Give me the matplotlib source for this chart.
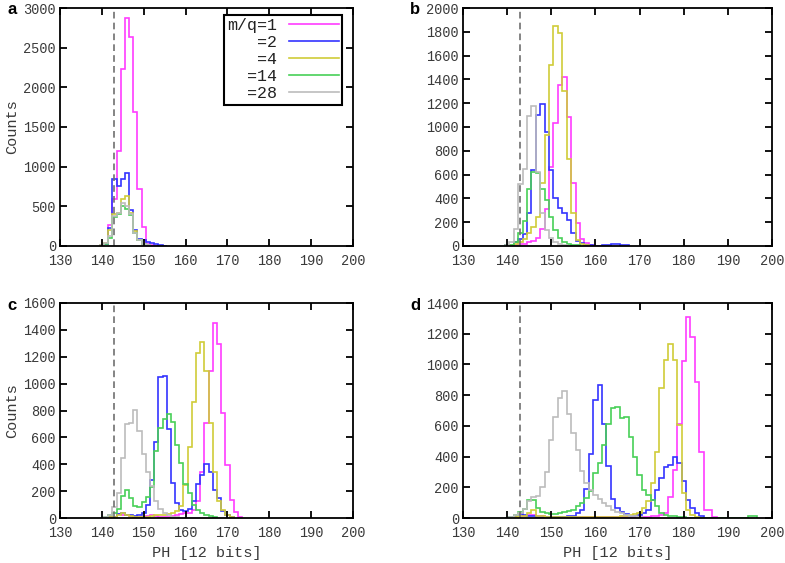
import matplotlib
matplotlib.use("Agg")
import matplotlib.pyplot as plt
from matplotlib.lines import Line2D
import numpy as np

# ---------------- data (counts per 1-unit PH bin, first bin centre = START) -------------
START = 140
xlim = (130, 200)
dashed_x = 143
labels = ["m/q=1", "=2", "=4", "=14", "=28"]
colors = ["#ff3cff", "#3434ff", "#d0cc38", "#48d058", "#bcbcbc"]

# panel a
a_m1 = [5, 20, 265, 590, 1200, 2230, 2880, 2630, 1685, 720, 245, 30, 10, 5]
a_m2 = [5, 30, 230, 840, 750, 840, 915, 460, 200, 85, 75, 55, 35, 20, 10, 5]
a_m4 = [10, 40, 200, 400, 420, 590, 635, 420, 190, 80, 30, 10]
a_m14 = [5, 20, 100, 370, 400, 510, 470, 390, 170, 80, 30, 10]
a_m28 = [10, 40, 130, 380, 420, 540, 510, 400, 170, 70, 30, 10]

# panel b
b_m1 = [0, 0, 5, 15, 20, 36, 45, 64, 140, 311, 667, 1036, 1353, 1417, 1087, 527, 190, 56, 22, 5]
b_m2 = [5, 10, 30, 60, 100, 280, 640, 1100, 1195, 960, 635, 400, 316, 280, 218, 106, 45, 22,
        10, 5, 3, 3, 5, 10, 15, 20, 10, 5]
b_m4 = [0, 10, 20, 30, 60, 106, 162, 246, 527, 930, 1521, 1849, 1793, 1305, 728, 275, 50, 20, 5]
b_m14 = [5, 10, 30, 110, 210, 475, 625, 616, 476, 386, 246, 134, 64, 36, 20, 10, 5]
b_m28 = [10, 30, 140, 525, 650, 1095, 1180, 620, 275, 134, 64, 36, 20, 10]

# panel c
c_m1 = [0, 0, 5, 10, 30, 25, 20, 15, 10, 10, 10, 15, 20, 15, 10, 10, 10, 15, 20, 30,
        35, 40, 60, 130, 346, 705, 1097, 1448, 1295, 780, 396, 136, 42, 5]
c_m2 = [0, 0, 5, 10, 30, 35, 25, 20, 15, 20, 40, 100, 280, 565, 1050, 1060, 660, 260, 111, 62,
        50, 70, 125, 250, 322, 403, 346, 210, 150, 55, 20, 5]
c_m4 = [0, 0, 5, 10, 20, 40, 25, 15, 10, 5, 5, 10, 15, 20, 20, 25, 30, 40, 50, 90,
        248, 532, 866, 1225, 1312, 1097, 705, 346, 124, 60, 20, 5]
c_m14 = [0, 5, 20, 40, 70, 165, 205, 150, 90, 80, 120, 160, 230, 500, 670, 740, 775, 715, 545, 410,
         250, 185, 100, 60, 40, 25, 15, 8]
c_m28 = [0, 5, 20, 80, 185, 450, 700, 705, 805, 650, 480, 345, 240, 125, 70, 40, 25, 10, 5]

# panel d
d_m1 = [0, 0, 5, 10, 15, 20, 20, 15, 10, 5, 5, 5, 5, 5, 5, 5, 5, 5, 5, 5,
        5, 5, 5, 5, 5, 5, 5, 5, 5, 5, 5, 5, 8, 10, 15, 20, 30, 140, 315, 610,
        1025, 1310, 1180, 885, 430, 55, 50, 5]
d_m2 = [0, 5, 10, 25, 20, 15, 10, 8, 5, 5, 5, 5, 5, 8, 10, 15, 30, 55, 190, 420,
        770, 865, 610, 340, 125, 65, 40, 25, 15, 15, 20, 30, 55, 120, 180, 260, 335, 345, 400, 360,
        240, 115, 65, 30, 10]
d_m4 = [0, 0, 5, 10, 15, 30, 55, 15, 10, 5, 5, 5, 5, 5, 5, 5, 5, 5, 5, 5,
        5, 5, 5, 5, 5, 5, 10, 15, 20, 25, 30, 65, 110, 230, 430, 845, 1030, 1135, 1030, 605,
        160, 55, 20, 5]
d_m14 = [0, 5, 20, 40, 60, 120, 115, 65, 40, 30, 25, 25, 30, 40, 45, 55, 75, 100, 130, 175,
         290, 360, 475, 615, 715, 720, 650, 660, 530, 400, 280, 185, 150, 120, 75, 30, 20, 15, 10, 8,
         5, 3, 3, 3, 3, 3, 3, 3, 3, 3, 3, 3, 3, 3, 3, 10, 10]
d_m28 = [0, 5, 20, 35, 60, 110, 140, 145, 200, 300, 505, 660, 780, 830, 680, 555, 440, 305, 230, 180,
         150, 125, 100, 75, 55, 40, 30, 20, 15, 10, 5]

panels = [
    ("a", [a_m1, a_m2, a_m4, a_m14, a_m28], 3000, 500),
    ("b", [b_m1, b_m2, b_m4, b_m14, b_m28], 2000, 200),
    ("c", [c_m1, c_m2, c_m4, c_m14, c_m28], 1600, 200),
    ("d", [d_m1, d_m2, d_m4, d_m14, d_m28], 1400, 200),
]

# ---------------- figure ----------------
MONO = "Liberation Mono"
TXT = "#3a3a3a"
fig = plt.figure(figsize=(7.85, 5.63), dpi=100)
W, H = 785, 563
boxes = {
    "a": (60, 8, 353, 246),
    "b": (463, 8, 772, 246),
    "c": (60, 303, 353, 518),
    "d": (463, 303, 772, 518),
}

for letter, series, ymax, ystep in panels:
    x0, y0, x1, y1 = boxes[letter]
    ax = fig.add_axes([x0 / W, 1 - y1 / H, (x1 - x0) / W, (y1 - y0) / H])
    for vals, col in zip(series, colors):
        edges = np.arange(len(vals) + 1) + START - 0.5
        ax.stairs(vals, edges, baseline=0, color=col, lw=1.2)
    ax.axvline(dashed_x, color="#707070", ls=(0, (4, 2.5)), lw=1.2)
    ax.set_xlim(*xlim)
    ax.set_ylim(0, ymax)
    ax.set_xticks(np.arange(130, 201, 10))
    ax.set_yticks(np.arange(0, ymax + 1, ystep))
    ax.tick_params(direction="in", top=True, right=True, length=5, width=1.3,
                   labelsize=9.8, labelcolor=TXT)
    ax.tick_params(axis="x", pad=6)
    ax.tick_params(axis="y", pad=3)
    for lab in ax.get_xticklabels() + ax.get_yticklabels():
        lab.set_family(MONO)
    for s in ax.spines.values():
        s.set_linewidth(1.3)
    if letter in ("a", "c"):
        ax.set_ylabel("Counts", family=MONO, fontsize=11, color=TXT, labelpad=3)
    if letter in ("c", "d"):
        ax.set_xlabel("PH [12 bits]", family=MONO, fontsize=11, color=TXT, labelpad=4)
    fig.text((x0 - 53) / W, 1 - (y0 + 2) / H, letter, fontsize=12, fontweight="bold",
             family="Liberation Sans", ha="left", va="center")
    if letter == "a":
        handles = [Line2D([], [], color=c, lw=1.2) for c in colors]
        leg = ax.legend(handles, labels, loc="upper right",
                        bbox_to_anchor=((342 - x0) / (x1 - x0), (y1 - 15) / (y1 - y0)),
                        borderaxespad=0, markerfirst=False,
                        prop={"family": MONO, "size": 12}, handlelength=3.0,
                        handletextpad=0.7, labelspacing=0.12, borderpad=0.2,
                        fancybox=False, edgecolor="black", framealpha=1)
        leg.get_frame().set_linewidth(1.5)
        for t in leg.get_texts():
            t.set_color("#222222")

fig.savefig("out.png", dpi=100)
